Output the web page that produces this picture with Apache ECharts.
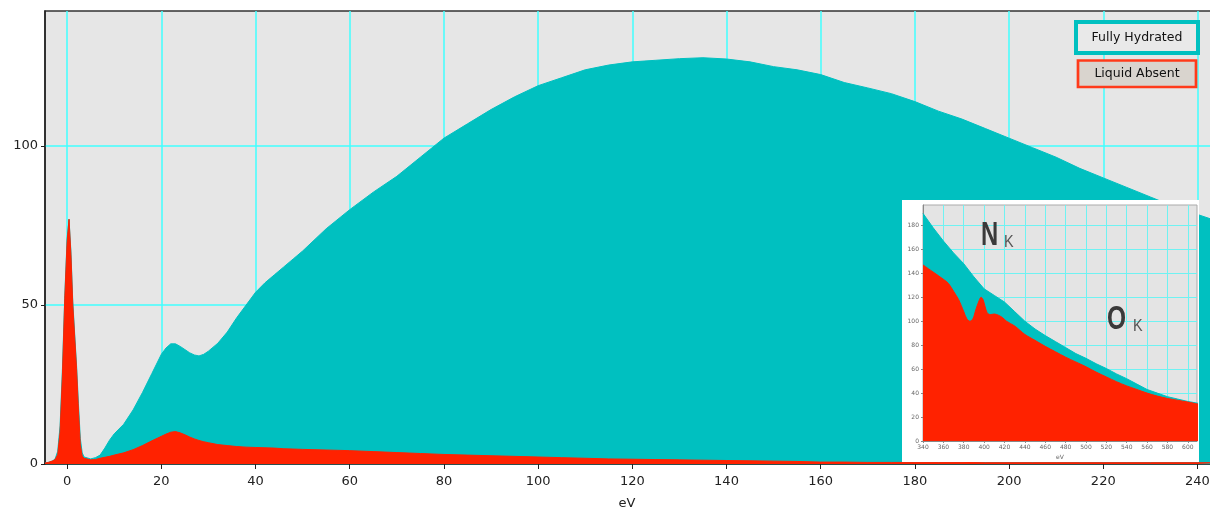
<!DOCTYPE html>
<html><head><meta charset="utf-8">
<script src="https://cdn.jsdelivr.net/npm/echarts@6/dist/echarts.min.js"></script>
<style>
html,body{margin:0;padding:0;background:#fff}
#wrap{position:relative;width:1210px;height:508px;overflow:hidden}
#c{position:absolute;left:0;top:0;width:1214px;height:508px}
#inset{position:absolute;left:902px;top:200px;width:297px;height:262px;background:#fff}
</style>
</head><body><div id="wrap"><div id="c"></div><div id="inset"></div></div>
<script>
// ---- main spectrum (eV vs counts) ----
const energy = [-4.7,-4,-3,-2.5,-2,-1.5,-1,-0.5,
  0,0.4,0.8,1.2,1.6,2,2.4,2.8,3.2,3.6,
  4,5,6,7,8,9,10,
  12,14,16,18,20,
  21,22,23,24,25,26,27,28,29,30,
  32,34,36,38,40,42,44,46,48,50,
  55,60,65,70,75,80,85,90,95,100,
  105,110,115,120,125,130,135,140,145,150,155,160,165,170,175,180,185,190,195,200,
  205,210,215,220,225,230,235,240,244];
const fullyHydrated = [0.3,0.5,1,1.8,4,12,30,53,
  71,77,67,51,41,31,19,8,3.5,2.2,
  1.8,1.6,2,2.8,5,7.5,9.5,
  12.5,17,22.5,28.5,34.5,
  36.5,37.8,37.8,37,36,35,34.3,34,34.5,35.5,
  38,41.5,46,50,54,57,59.5,62,64.5,67,
  74,80,85.5,90.5,96.5,102.5,107,111.5,115.5,119,
  121.5,124,125.5,126.5,127,127.5,127.8,127.4,126.5,125,124,122.5,120,118.3,116.5,114,111,108.5,105.5,102.5,
  99.5,96.5,93,90,87,84,81,78.5,76.5];
const liquidAbsent = [0.3,0.5,1,1.5,3,10,28,52,
  70,77,66,50,40,30,17,6,2.5,1.8,
  1.5,1.3,1.4,1.8,2.1,2.4,2.8,
  3.5,4.5,5.8,7.3,8.7,
  9.4,10,10.2,9.8,9.2,8.5,7.9,7.4,7,6.7,
  6.1,5.8,5.5,5.3,5.2,5.1,5,4.8,4.7,4.6,
  4.4,4.2,3.9,3.6,3.3,3,2.8,2.6,2.4,2.2,
  2,1.8,1.6,1.5,1.4,1.3,1.2,1.1,1,0.9,0.8,0.6,0.6,0.5,0.5,0.5,0.5,0.5,0.4,0.4,
  0.4,0.4,0.4,0.4,0.4,0.4,0.4,0.4,0.4];
const xTicks = [0,20,40,60,80,100,120,140,160,180,200,220,240];
const yTicks = [0,50,100];

// ---- inset: N K / O K edges ----
const insetEnergyFH = [340,350,360,370,380,390,400,410,420,430,440,450,460,470,480,490,500,510,520,530,540,550,560,570,580,590,600,610];
const insetFH = [190,178,167,157,148,137,127,121.5,116,108,100,93.5,88,83,78,73,69,64.5,60.5,56,52,47.5,43,40,37,35,33,31.5];
const insetEnergyLA = [340,350,360,365,370,375,380,383,386,389,392,395,397,399,401,403,406,410,414,418,422,430,440,450,460,470,480,490,500,510,520,530,540,550,560,570,580,590,600,610];
const insetLA = [147,141,135,131.5,125,118,108,102,100,102,110,117,120,118,112,107,105.5,106,105,103,100,96,89,84,79,74.5,70,66,62,57.5,53.5,49.5,46,43,40,37.5,35.5,34,32.5,30.8];
const insetXTicks = [340,360,380,400,420,440,460,480,500,520,540,560,580,600];
const insetYTicks = [0,20,40,60,80,100,120,140,160,180];

const names = ['Fully Hydrated','Liquid Absent'];
const TEAL = '#00c0c0', RED = '#ff2200';
const FONT = 'DejaVu Sans';

const pairs = (xs, ys) => xs.map((x, i) => [x, ys[i]]);
const areaSeries = (name, data, color, z, extra) => Object.assign({
  name, type:'line', data, showSymbol:false, z,
  lineStyle:{color, width:1}, itemStyle:{color}, areaStyle:{color, opacity:1}
}, extra || {});

// ---------- main chart (canvas slightly wider than the window so the right border falls outside) ----------
const chart = echarts.init(document.getElementById('c'), null, {renderer:'canvas'});
chart.setOption({
  animation: false,
  backgroundColor: '#ffffff',
  grid: {left:45, top:11, right:1, bottom:44, outerBoundsMode:'none', containLabel:false,
         show:true, backgroundColor:'#e6e6e6', borderColor:'#333', borderWidth:1.5},
  xAxis: {type:'value', min:-4.7, max:243.3,
     axisLine:{show:true, onZero:false, lineStyle:{color:'#222', width:1.5}},
     axisTick:{show:true, length:5, lineStyle:{color:'#222'}, customValues:xTicks},
     axisLabel:{fontSize:13, color:'#222', fontFamily:FONT, margin:11, customValues:xTicks},
     splitLine:{show:true, lineStyle:{color:'#40ffff', width:1.5}},
     name:'eV', nameLocation:'start', nameGap:0, nameTextStyle:{fontSize:13, color:'#222', fontFamily:FONT,
       align:'center', verticalAlign:'top', padding:[33,0,0,0]}},
  yAxis: {type:'value', min:0, max:142.5,
     axisLine:{show:true, onZero:false, lineStyle:{color:'#222', width:1.5}},
     axisTick:{show:true, length:4, lineStyle:{color:'#222'}, customValues:yTicks},
     axisLabel:{fontSize:13, color:'#222', fontFamily:FONT, margin:7, customValues:yTicks},
     splitLine:{show:true, lineStyle:{color:'#40ffff', width:1.5}}},
  series: [
    areaSeries(names[0], pairs(energy, fullyHydrated), TEAL, 2),
    areaSeries(names[1], pairs(energy, liquidAbsent), RED, 3)
  ],
  graphic: [
    {type:'text', z:101, x:627, y:497, style:{text:'eV', font:'13px "DejaVu Sans"', fill:'#222', textAlign:'center', textVerticalAlign:'top'}},
    {type:'rect', z:100, shape:{x:1076, y:22, width:122, height:31}, style:{fill:'#e9e9e9', stroke:TEAL, lineWidth:4}},
    {type:'text', z:101, x:1137, y:37.5, style:{text:names[0], font:'12.5px "DejaVu Sans"', fill:'#111', textAlign:'center', textVerticalAlign:'middle'}},
    {type:'rect', z:100, shape:{x:1078, y:60.5, width:118, height:26.5}, style:{fill:'#d9d4ce', stroke:'#ff3a1a', lineWidth:2.7}},
    {type:'text', z:101, x:1137, y:74, style:{text:names[1], font:'12.5px "DejaVu Sans"', fill:'#111', textAlign:'center', textVerticalAlign:'middle'}}
  ]
});
// the axis name is drawn as the graphic text above; hide the built-in one
chart.setOption({xAxis:{name:''}});

// ---------- inset chart ----------
const inset = echarts.init(document.getElementById('inset'), null, {renderer:'canvas'});
inset.setOption({
  animation: false,
  backgroundColor: '#ffffff',
  grid: {left:21, top:5, right:2, bottom:21, outerBoundsMode:'none', containLabel:false,
         show:true, backgroundColor:'#e4e4e4', borderColor:'#aaa', borderWidth:1},
  xAxis: {type:'value', min:340, max:609,
     axisLine:{show:true, onZero:false, lineStyle:{color:'#888', width:1}},
     axisTick:{show:true, length:2, lineStyle:{color:'#888'}, customValues:insetXTicks},
     axisLabel:{fontSize:6, color:'#666', fontFamily:FONT, margin:3, customValues:insetXTicks},
     splitLine:{show:true, lineStyle:{color:'#6ff2f2', width:1}},
     name:'eV', nameLocation:'middle', nameGap:12, nameTextStyle:{fontSize:6, color:'#666', fontFamily:FONT}},
  yAxis: {type:'value', min:0, max:197,
     axisLine:{show:true, onZero:false, lineStyle:{color:'#888', width:1}},
     axisTick:{show:true, length:2, lineStyle:{color:'#888'}, customValues:insetYTicks},
     axisLabel:{fontSize:6, color:'#666', fontFamily:FONT, margin:4, customValues:insetYTicks},
     splitLine:{show:true, lineStyle:{color:'#6ff2f2', width:1}}},
  series: [
    areaSeries(names[0], pairs(insetEnergyFH, insetFH), TEAL, 2),
    areaSeries(names[1], pairs(insetEnergyLA, insetLA), RED, 3, {smooth:0.3})
  ],
  graphic: [
    {type:'text', z:100, x:79, y:36, scaleX:0.7, style:{text:'N', font:'bold 34px "Liberation Sans"', fill:'#3a3a3a', textVerticalAlign:'middle'}},
    {type:'text', z:100, x:102, y:42.5, scaleX:0.85, style:{text:'K', font:'17px "Liberation Sans"', fill:'#555', textVerticalAlign:'middle'}},
    {type:'text', z:100, x:205, y:120, scaleX:0.72, style:{text:'O', font:'bold 34px "Liberation Sans"', fill:'#3a3a3a', textVerticalAlign:'middle'}},
    {type:'text', z:100, x:231, y:126.5, scaleX:0.85, style:{text:'K', font:'17px "Liberation Sans"', fill:'#555', textVerticalAlign:'middle'}}
  ]
});
</script>
</body></html>
